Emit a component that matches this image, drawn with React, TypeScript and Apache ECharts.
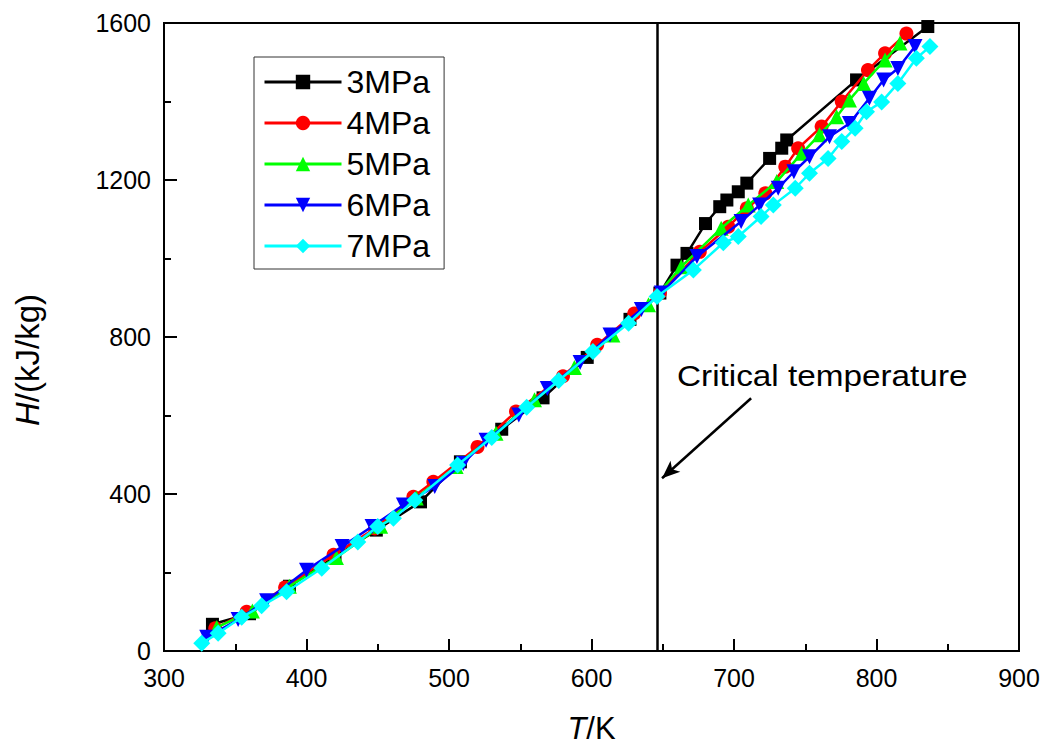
import React, { useEffect, useRef } from "react";
import * as echarts from "echarts";

const seriesNames = ["3MPa", "4MPa", "5MPa", "6MPa", "7MPa"];
const seriesColors = ["#000000", "#ff0000", "#00ff00", "#0000ff", "#00ffff"];
const seriesSymbols = ["rect", "circle", "triangle", "path://M0,0L2,0L1,1.75Z", "diamond"];
const seriesSymbolSizes = [13, 14, 15, 15, 17];

const p3MPa = [
  [334, 68], [360, 95], [388, 165], [420, 240], [449, 308], [480, 380], [508, 482], [537, 565],
  [566, 645], [597, 748], [627, 845], [648, 912], [660, 983], [667, 1013], [680, 1089],
  [690, 1132], [695, 1149], [703, 1170], [709, 1192], [725, 1255], [733.5, 1281], [737, 1302],
  [786, 1455], [836, 1591],
];
const p4MPa = [
  [336, 58], [358, 100], [385, 162], [419, 245], [448, 312], [475, 393], [489, 431], [520, 520],
  [547, 610], [580, 700], [604, 780], [630, 860], [648, 912], [676, 1017], [696, 1081],
  [709, 1128], [722, 1166], [736, 1234], [745, 1281], [761.5, 1336], [775.6, 1400], [794, 1480],
  [806, 1523], [821, 1573],
];
const p5MPa = [
  [337, 60], [362, 102], [388, 165], [421, 238], [452, 318], [477, 390], [505, 470], [533, 555],
  [560, 640], [588, 722], [615, 805], [640, 882], [663, 979], [691, 1077], [710, 1136],
  [730, 1196], [747.5, 1268], [760, 1315], [772, 1361], [781, 1404], [791, 1446], [806, 1506],
  [816.5, 1549],
];
const p6MPa = [
  [330, 35], [352, 80], [372, 128], [400, 206], [425, 266], [446, 317], [468, 372], [490, 419],
  [510, 478], [526, 537], [549, 601], [569, 669], [592, 735], [613, 805], [635, 870], [649, 912],
  [674, 1005], [705, 1094], [718, 1136], [731, 1179], [742, 1221], [753, 1259], [767, 1310],
  [781, 1344], [795, 1408], [805, 1455], [815, 1484], [827, 1540],
];
const p7MPa = [
  [326.5, 20], [338, 45], [354.5, 86], [368.5, 115], [386, 151], [410.7, 211], [436, 278],
  [450, 317], [461, 338], [476, 384], [506, 474], [530, 544], [554.5, 621], [577, 689], [601, 763],
  [626, 835], [646, 903], [671.5, 971], [692.5, 1040], [703, 1056], [719, 1107], [727.6, 1136],
  [743, 1179], [753, 1217], [766, 1255], [775.6, 1298], [785, 1332], [793, 1374], [803.6, 1399],
  [815, 1446], [828, 1510], [837.5, 1540],
];
const seriesData = [p3MPa, p4MPa, p5MPa, p6MPa, p7MPa];

const criticalT = 646;
const arrowFrom = [712, 644];
const arrowTo = [649.5, 440];
const annotationText = "Critical temperature";

const xMin = 300, xMax = 900, xStep = 100;
const yMin = 0, yMax = 1600, yStep = 400;

export default function App() {
  const ref = useRef<HTMLDivElement>(null);
  useEffect(() => {
    if (!ref.current) return;
    const chart = echarts.init(ref.current, null, { renderer: "svg" });
    const font = "'Liberation Sans', Arial, sans-serif";
    const series: any[] = seriesNames.map((name, i) => ({
      name,
      type: "line",
      data: seriesData[i],
      symbol: seriesSymbols[i],
      symbolSize: seriesSymbolSizes[i],
      showSymbol: true,
      lineStyle: { color: seriesColors[i], width: 2.5 },
      itemStyle: { color: seriesColors[i] },
      z: 3 + i,
    }));
    series[0].markLine = {
      silent: true,
      animation: false,
      label: { show: false },
      data: [
        [
          { coord: [criticalT, yMin], symbol: "none" },
          { coord: [criticalT, yMax], symbol: "none" },
        ],
        [
          { coord: arrowFrom, symbol: "none" },
          { coord: arrowTo, symbol: "arrow", symbolSize: [11, 18] },
        ],
      ],
      lineStyle: { color: "#000", width: 2.5, type: "solid" },
    };
    chart.setOption({
      animation: false,
      grid: { left: 164, right: 30, top: 23, bottom: 100, show: true, borderColor: "#000", borderWidth: 2 },
      legend: {
        orient: "vertical",
        left: 254,
        top: 57,
        padding: [9, 14, 7, 9],
        itemGap: 9,
        itemWidth: 77,
        itemHeight: 18,
        borderColor: "#333",
        borderWidth: 1,
        data: seriesNames,
        lineStyle: { width: 3 },
        textStyle: { fontSize: 32, lineHeight: 30, color: "#000", fontFamily: font },
      },
      xAxis: {
        type: "value",
        min: xMin,
        max: xMax,
        interval: xStep,
        name: "{i|T}/K",
        nameLocation: "middle",
        nameGap: 62,
        nameTextStyle: {
          fontSize: 31, color: "#000", fontFamily: font,
          rich: { i: { fontSize: 31, fontStyle: "italic", fontFamily: font, color: "#000" } },
        },
        axisLine: { lineStyle: { color: "#000", width: 2 } },
        axisTick: { inside: true, length: 12, lineStyle: { color: "#000", width: 2 } },
        minorTick: { show: true, splitNumber: 2, length: 7, lineStyle: { color: "#000", width: 2 } },
        axisLabel: { fontSize: 25, color: "#000", fontFamily: font, margin: 14 },
        splitLine: { show: false },
      },
      yAxis: {
        type: "value",
        min: yMin,
        max: yMax,
        interval: yStep,
        name: "{i|H}/(kJ/kg)",
        nameLocation: "middle",
        nameGap: 120,
        nameTextStyle: {
          fontSize: 33, color: "#000", fontFamily: font, padding: [0, 46, 0, 0],
          rich: { i: { fontSize: 33, fontStyle: "italic", fontFamily: font, color: "#000" } },
        },
        axisLine: { lineStyle: { color: "#000", width: 2 } },
        axisTick: { inside: true, length: 13, lineStyle: { color: "#000", width: 2 } },
        minorTick: { show: true, splitNumber: 2, length: 7, lineStyle: { color: "#000", width: 2 } },
        axisLabel: { fontSize: 25, color: "#000", fontFamily: font, margin: 13, formatter: (v: number) => String(v) },
        splitLine: { show: false },
      },
      graphic: [
        {
          type: "text",
          left: 677,
          top: 361,
          scaleX: 1.11,
          style: { text: annotationText, fontSize: 30, fill: "#000", fontFamily: font },
        },
      ],
      series,
    });
    return () => chart.dispose();
  }, []);
  return (
    <div
      ref={ref}
      style={{ position: "fixed", left: 0, top: 0, width: 1049, height: 751, background: "#fff" }}
    />
  );
}
